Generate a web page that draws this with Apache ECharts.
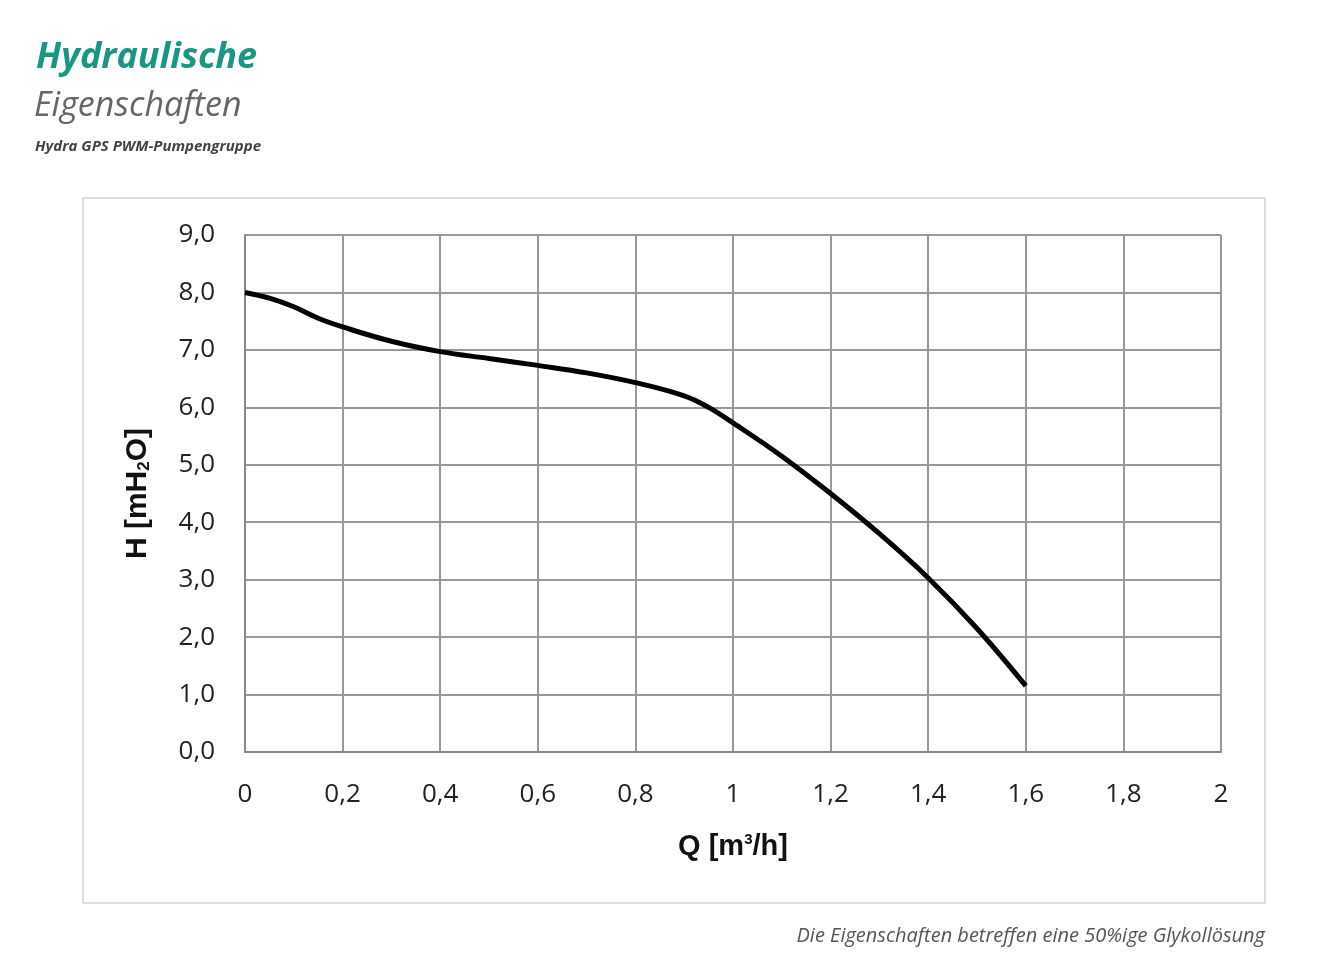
<!DOCTYPE html>
<html><head><meta charset="utf-8">
<script src="https://cdn.jsdelivr.net/npm/echarts@6/dist/echarts.min.js"></script>
<style>html,body{margin:0;background:#fff}#c{width:1342px;height:977px}</style>
</head><body><div id="c"></div>
<script>
const flowQ = [0,0.05,0.1,0.15,0.2,0.3,0.4,0.5,0.6,0.7,0.8,0.9,0.95,1.0,1.1,1.2,1.3,1.4,1.5,1.6];
const headH = [8.0,7.9,7.75,7.55,7.4,7.15,6.97,6.85,6.73,6.6,6.43,6.2,6.0,5.73,5.15,4.5,3.8,3.03,2.15,1.15];
const xTicks = ['0','0,2','0,4','0,6','0,8','1','1,2','1,4','1,6','1,8','2'];
const chart = echarts.init(document.getElementById('c'));
chart.setOption({
  animation:false,
  graphic:[
    {type:'rect',shape:{x:83,y:198,width:1182,height:705},style:{fill:'none',stroke:'#bbb',lineWidth:1}},
    {type:'text',left:36,top:40,style:{text:'Hydraulische',font:'italic bold 36px "Open Sans"',fill:'#1a9684'}},
    {type:'text',left:34,top:89,style:{text:'Eigenschaften',font:'italic 34px "Open Sans"',fill:'#666'}},
    {type:'text',left:35,top:139,style:{text:'Hydra GPS PWM-Pumpengruppe',font:'italic bold 15px "Open Sans"',fill:'#444'}},
    {type:'text',right:77,top:926,style:{text:'Die Eigenschaften betreffen eine 50%ige Glykollösung',font:'italic 20px "Open Sans"',fill:'#555'}}
  ],
  grid:{left:245,right:121,top:235,bottom:225},
  xAxis:{type:'value',min:0,max:2,interval:0.2,
    name:'{a|Q [m}{s|3}{a|/h]}',nameLocation:'middle',nameGap:80,
    nameTextStyle:{rich:{a:{fontFamily:'Liberation Sans',fontWeight:'bold',fontSize:29,color:'#111'},s:{fontFamily:'Liberation Sans',fontWeight:'bold',fontSize:15,color:'#111',verticalAlign:'top',padding:[0,0,14,0]}}},
    axisLine:{lineStyle:{color:'#888',width:2}},axisTick:{show:false},
    splitLine:{lineStyle:{color:'#999',width:2}},
    axisLabel:{fontFamily:'Open Sans',fontSize:26,color:'#222',margin:30,formatter:(v)=>xTicks[Math.round(v/0.2)]}},
  yAxis:{type:'value',min:0,max:9,interval:1,
    name:'{a|H [mH}{s|2}{a|O]}',nameLocation:'middle',nameGap:92,nameRotate:90,
    nameTextStyle:{rich:{a:{fontFamily:'Liberation Sans',fontWeight:'bold',fontSize:30,color:'#111'},s:{fontFamily:'Liberation Sans',fontWeight:'bold',fontSize:17,color:'#111',verticalAlign:'bottom',padding:[12,0,0,0]}}},
    axisLine:{show:true,lineStyle:{color:'#888',width:2}},axisTick:{show:false},
    splitLine:{lineStyle:{color:'#999',width:2}},
    axisLabel:{fontFamily:'Open Sans',fontSize:26,color:'#222',margin:30,formatter:(v)=>v.toFixed(1).replace('.',',')}},
  series:[{type:'line',data:flowQ.map((q,i)=>[q,headH[i]]),smooth:0.4,showSymbol:false,lineStyle:{color:'#000',width:5}}]
});
</script></body></html>
